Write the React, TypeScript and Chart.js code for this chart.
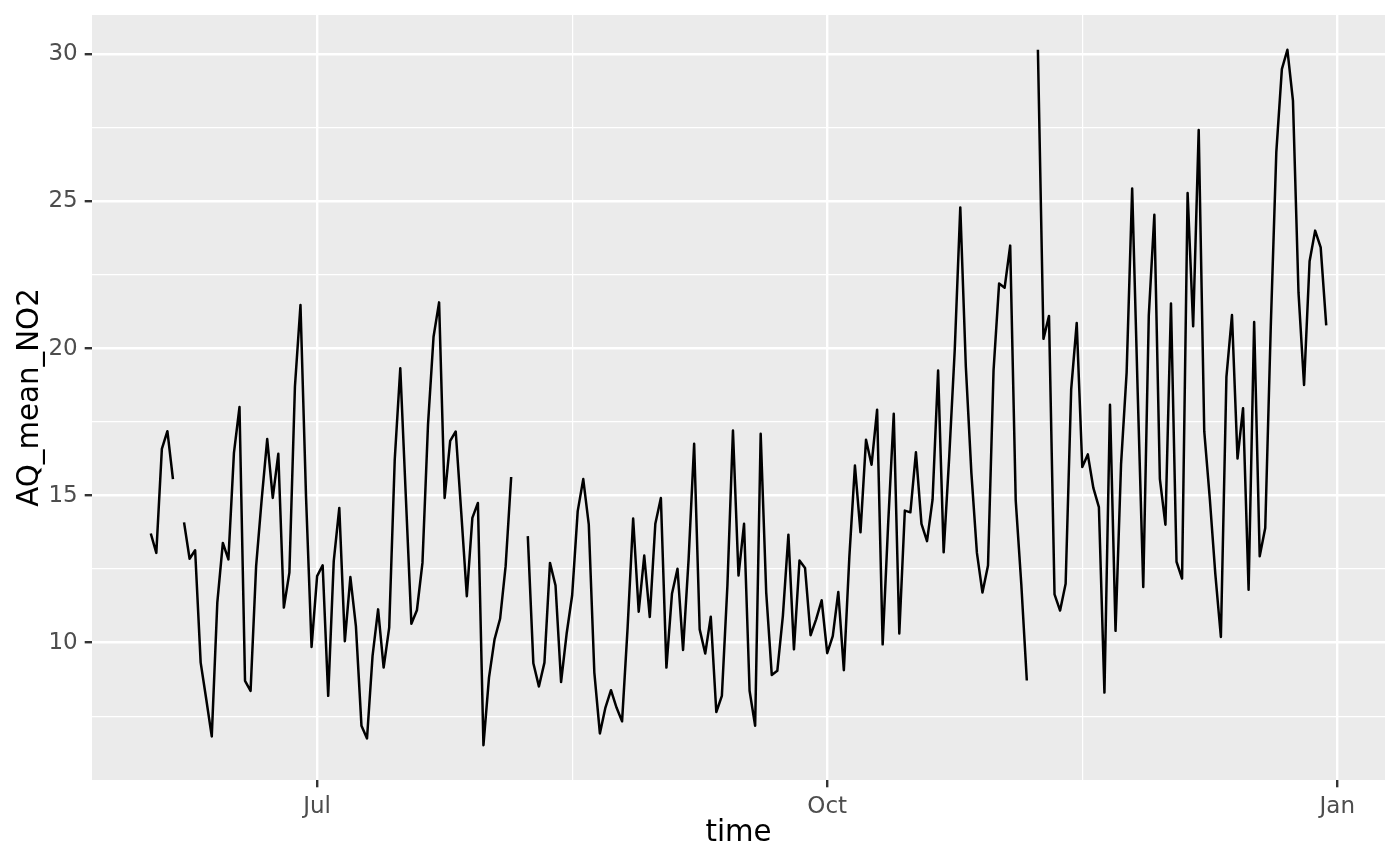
import React, { useEffect, useRef } from "react";
import { Chart, registerables } from "chart.js";

Chart.register(...registerables);

// ---- data -------------------------------------------------------------
// Daily mean NO2, one value per day starting on the first date below; null = missing day
const firstDate = "2021-06-01";
const no2Values: (number | null)[] = [
  // Jun 1 – Jun 5
  13.71, 13.05, 16.59, 17.19, 15.56,
  null,
  // Jun 7 – Aug 5
  14.09, 12.85, 13.14, 9.32, 8.08, 6.81, 11.36, 13.39, 12.83, 16.45,
  18.01, 8.70, 8.36, 12.60, 14.86, 16.92, 14.92, 16.42, 11.19, 12.38,
  18.71, 21.48, 14.97, 9.85, 12.26, 12.63, 8.19, 12.77, 14.58, 10.05,
  12.23, 10.55, 7.17, 6.74, 9.55, 11.13, 9.15, 10.51, 16.22, 19.33,
  14.97, 10.64, 11.10, 12.71, 17.41, 20.40, 21.57, 14.92, 16.86, 17.18,
  14.41, 11.58, 14.24, 14.75, 6.51, 8.81, 10.11, 10.81, 12.60, 15.63,
  null, null,
  // Aug 8 – Nov 6
  13.62, 9.30, 8.51, 9.32, 12.71, 11.94, 8.66, 10.30, 11.61, 14.47,
  15.56, 14.01, 8.98, 6.91, 7.79, 8.38, 7.79, 7.32, 10.51, 14.22,
  11.05, 12.96, 10.87, 14.04, 14.92, 9.15, 11.66, 12.51, 9.75, 12.83,
  16.76, 10.45, 9.63, 10.88, 7.64, 8.19, 11.94, 17.21, 12.28, 14.04,
  8.36, 7.17, 17.10, 11.70, 8.90, 9.04, 10.90, 13.67, 9.77, 12.79,
  12.54, 10.25, 10.79, 11.44, 9.64, 10.22, 11.72, 9.06, 12.94, 16.02,
  13.75, 16.90, 16.05, 17.92, 9.94, 14.07, 17.78, 10.31, 14.49, 14.43,
  16.47, 14.04, 13.45, 14.86, 19.25, 13.07, 16.30, 19.95, 24.80, 19.39,
  15.77, 13.05, 11.70, 12.62, 19.26, 22.21, 22.07, 23.50, 14.83, 12.00,
  8.71,
  null,
  // Nov 8 – Dec 30
  30.16, 20.33, 21.11, 11.64, 11.09, 12.00, 18.61, 20.87, 15.97, 16.40,
  15.26, 14.61, 8.30, 18.09, 10.40, 16.08, 19.18, 25.44, 18.50, 11.89,
  21.13, 24.55, 15.56, 14.01, 21.53, 12.75, 12.18, 25.29, 20.76, 27.43,
  17.19, 14.90, 12.33, 10.19, 19.04, 21.14, 16.26, 17.97, 11.80, 20.90,
  12.94, 13.90, 20.76, 26.69, 29.50, 30.16, 28.43, 21.90, 18.76, 22.97,
  24.01, 23.44, 20.79,
];

const xMajorDates = ["2021-07-01", "2021-10-01", "2022-01-01"];
const xMajorLabels = ["Jul", "Oct", "Jan"];
const xMinorDates = ["2021-08-16", "2021-11-16"];
const yMajorTicks = [10, 15, 20, 25, 30];
const yMinorTicks = [7.5, 12.5, 17.5, 22.5, 27.5];

const xTitle = "time";
const yTitle = "AQ_mean_NO2";

// ---- styling ----------------------------------------------------------
const FONT = "'DejaVu Sans', 'Liberation Sans', sans-serif";
const DAY = 86400000;
const PANEL = "#EBEBEB";
const TICK_TEXT = "#4D4D4D";
const TICK_MARK = "#333333";
const MAJOR_W = 2.4;
const MINOR_W = 1.2;

const panelBackground = {
  id: "panelBackground",
  beforeDraw(chart: any) {
    const { ctx, chartArea: a } = chart;
    ctx.save();
    ctx.fillStyle = "#FFFFFF";
    ctx.fillRect(0, 0, chart.width, chart.height);
    ctx.fillStyle = PANEL;
    ctx.fillRect(a.left, a.top, a.right - a.left, a.bottom - a.top);
    ctx.restore();
  },
};

export default function App() {
  const ref = useRef<HTMLCanvasElement>(null);

  useEffect(() => {
    if (!ref.current) return;
    const start = Date.parse(firstDate);
    const points = no2Values.map((v, i) => ({ x: start + i * DAY, y: v }));

    const xs = points.map((p) => p.x);
    const ys = no2Values.filter((v): v is number => v !== null);
    const xMin0 = Math.min(...xs);
    const xMax0 = Math.max(...xs);
    const yMin0 = Math.min(...ys);
    const yMax0 = Math.max(...ys);
    const xPad = (xMax0 - xMin0) * 0.05;
    const yPad = (yMax0 - yMin0) * 0.05;

    const xMajorVals = xMajorDates.map((d) => Date.parse(d));
    const xMinorVals = xMinorDates.map((d) => Date.parse(d));
    const isXMajor = (v: number) => xMajorVals.includes(v);
    const isYMajor = (v: number) => yMajorTicks.includes(v);

    const chart = new Chart(ref.current, {
      type: "line",
      data: {
        datasets: [
          {
            data: points as any,
            borderColor: "#000000",
            borderWidth: 2.5,
            pointRadius: 0,
            tension: 0,
            spanGaps: false,
            borderJoinStyle: "round",
            borderCapStyle: "butt",
          },
        ],
      },
      options: {
        animation: false,
        responsive: false,
        devicePixelRatio: 1,
        layout: { padding: { left: 0, top: 15, right: 15, bottom: 0 } },
        plugins: {
          legend: { display: false },
          tooltip: { enabled: false },
        },
        scales: {
          x: {
            type: "linear",
            min: xMin0 - xPad,
            max: xMax0 + xPad,
            afterBuildTicks: (scale: any) => {
              scale.ticks = [...xMajorVals, ...xMinorVals]
                .sort((a, b) => a - b)
                .map((v) => ({ value: v }));
            },
            afterFit: (scale: any) => {
              scale.height = 85;
              scale.paddingLeft = 0;
              scale.paddingRight = 0;
            },
            ticks: {
              autoSkip: false,
              maxRotation: 0,
              padding: 6,
              color: TICK_TEXT,
              font: { family: FONT, size: 23 },
              callback: (value: any) => {
                const i = xMajorVals.indexOf(Number(value));
                return i >= 0 ? xMajorLabels[i] : "";
              },
            },
            grid: {
              color: "#FFFFFF",
              lineWidth: (c: any) => (c.tick && isXMajor(c.tick.value) ? MAJOR_W : MINOR_W),
              tickColor: (c: any) =>
                c.tick && isXMajor(c.tick.value) ? TICK_MARK : "rgba(0,0,0,0)",
              tickWidth: (c: any) => (c.tick && isXMajor(c.tick.value) ? MAJOR_W : 0),
              tickLength: 7.3,
              drawTicks: true,
            },
            border: { display: false },
            title: {
              display: true,
              text: xTitle,
              color: "#000000",
              font: { family: FONT, size: 29.3 },
              padding: { top: 0, bottom: 14 },
            },
          },
          y: {
            type: "linear",
            min: yMin0 - yPad,
            max: yMax0 + yPad,
            afterBuildTicks: (scale: any) => {
              scale.ticks = [...yMajorTicks, ...yMinorTicks]
                .sort((a, b) => a - b)
                .map((v) => ({ value: v }));
            },
            afterFit: (scale: any) => {
              scale.width = 92;
              scale.paddingTop = 0;
              scale.paddingBottom = 0;
            },
            ticks: {
              autoSkip: false,
              padding: 7,
              color: TICK_TEXT,
              font: { family: FONT, size: 23 },
              callback: (value: any) => (isYMajor(Number(value)) ? String(value) : ""),
            },
            grid: {
              color: "#FFFFFF",
              lineWidth: (c: any) => (c.tick && isYMajor(c.tick.value) ? MAJOR_W : MINOR_W),
              tickColor: (c: any) =>
                c.tick && isYMajor(c.tick.value) ? TICK_MARK : "rgba(0,0,0,0)",
              tickWidth: (c: any) => (c.tick && isYMajor(c.tick.value) ? MAJOR_W : 0),
              tickLength: 7.3,
              drawTicks: true,
            },
            border: { display: false },
            title: {
              display: true,
              text: yTitle,
              color: "#000000",
              font: { family: FONT, size: 29.3 },
              padding: { top: 13, bottom: 0 },
            },
          },
        },
      },
      plugins: [panelBackground],
    } as any);

    return () => chart.destroy();
  }, []);

  return (
    <div
      style={{
        position: "absolute",
        left: 0,
        top: 0,
        width: 1400,
        height: 865,
        background: "#FFFFFF",
      }}
    >
      <canvas
        ref={ref}
        width={1400}
        height={865}
        style={{ display: "block", width: 1400, height: 865 }}
      />
    </div>
  );
}
